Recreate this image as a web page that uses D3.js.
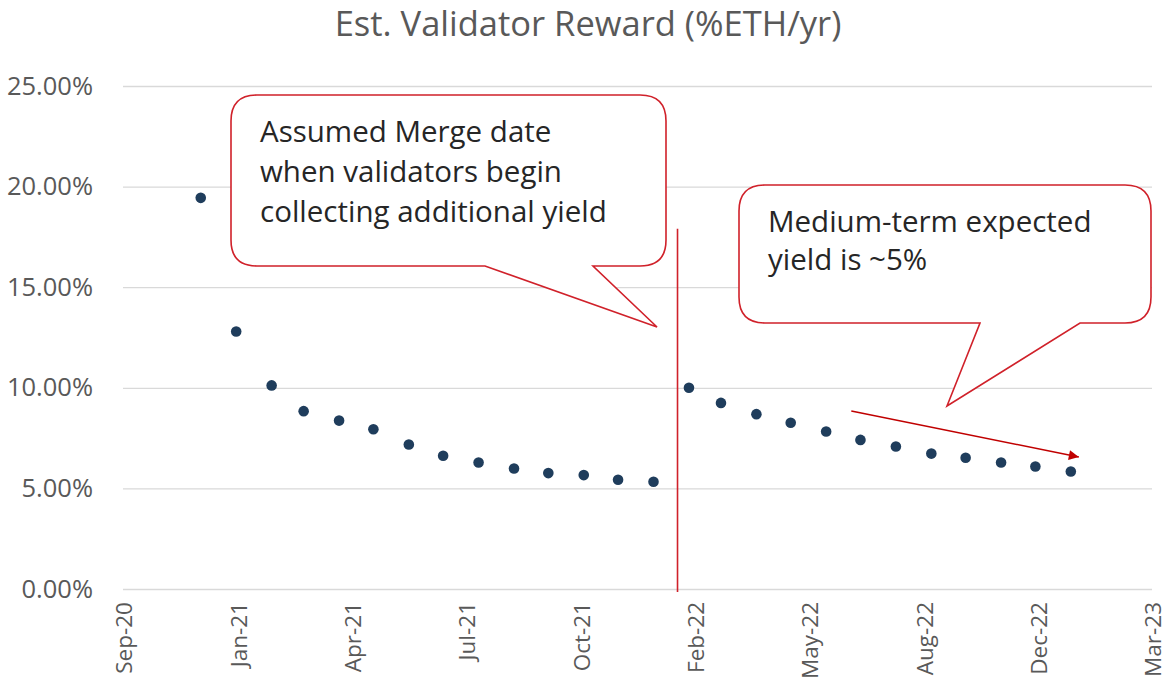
<!DOCTYPE html>
<html>
<head>
<meta charset="utf-8">
<script src="https://cdn.jsdelivr.net/npm/d3@7"></script>
<style>
  body { margin: 0; background: #fff; }
  text { font-family: "Open Sans", "Noto Sans", sans-serif; }
</style>
</head>
<body>
<div id="chart"></div>
<script>
// monthly estimates, % ETH per year
const preMergeDates = ["2020-12-01","2021-01-01","2021-02-01","2021-03-01","2021-04-01","2021-05-01","2021-06-01",
                       "2021-07-01","2021-08-01","2021-09-01","2021-10-01","2021-11-01","2021-12-01","2022-01-01"];
const preMergeReward = [19.44, 12.80, 10.12, 8.84, 8.37, 7.94, 7.18, 6.62, 6.29, 5.99, 5.76, 5.66, 5.43, 5.33];

const postMergeDates = ["2022-02-01","2022-03-01","2022-04-01","2022-05-01","2022-06-01","2022-07-01",
                        "2022-08-01","2022-09-01","2022-10-01","2022-11-01","2022-12-01","2023-01-01"];
const postMergeReward = [10.00, 9.25, 8.69, 8.26, 7.83, 7.41, 7.08, 6.73, 6.52, 6.29, 6.09, 5.84];

// axis: excel date axis, 100 day steps
const xTickDates = ["2020-09-24","2021-01-02","2021-04-12","2021-07-21","2021-10-29",
                    "2022-02-06","2022-05-17","2022-08-25","2022-12-03","2023-03-13"];
const yTicks = [0, 5, 10, 15, 20, 25];

const mergeDate = "2022-01-22";
const mergeLineRange = [17.9, -0.15];
const trendArrow = [["2022-06-23", 8.85], ["2023-01-08", 6.56]];

const chartTitle = "Est. Validator Reward (%ETH/yr)";
const callout1Lines = ["Assumed Merge date", "when validators begin", "collecting additional yield"];
const callout2Lines = ["Medium-term expected", "yield is ~5%"];

const W = 1168, H = 694;
const red = "#d0212a";
const parse = d3.utcParse("%Y-%m-%d");

const svg = d3.select("#chart").append("svg")
    .attr("width", W)
    .attr("height", H);

const xScale = d3.scaleUtc()
    .domain([parse(xTickDates[0]), parse(xTickDates[xTickDates.length - 1])])
    .range([123, 1152]);

const yScale = d3.scaleLinear()
    .domain([0, 25])
    .range([589, 86]);

svg.append("text")
    .attr("x", 588)
    .attr("y", 36)
    .attr("text-anchor", "middle")
    .attr("fill", "#595959")
    .style("font-size", "34.5px")
    .text(chartTitle);

// gridlines + y labels
const yAxis = svg.append("g")
    .attr("transform", "translate(123,0)")
    .call(d3.axisLeft(yScale)
        .tickValues(yTicks)
        .tickSize(-(1152 - 123))
        .tickPadding(30)
        .tickFormat(function (d) { return d3.format(".2f")(d) + "%"; }));
yAxis.select(".domain").remove();
yAxis.selectAll("line").attr("stroke", "#d9d9d9").attr("stroke-width", 1.3);
yAxis.selectAll("text")
    .attr("fill", "#595959")
    .style("font-size", "25.5px")
    .style("font-family", "'Open Sans', sans-serif");

// x labels, rotated
const xAxis = svg.append("g")
    .attr("transform", "translate(0,589)")
    .call(d3.axisBottom(xScale)
        .tickValues(xTickDates.map(parse))
        .tickSize(0)
        .tickFormat(d3.utcFormat("%b-%y")));
xAxis.select(".domain").remove();
xAxis.selectAll("text")
    .attr("transform", "rotate(-90)")
    .attr("text-anchor", "end")
    .attr("x", -13)
    .attr("y", 1)
    .attr("dy", "0.35em")
    .attr("fill", "#595959")
    .style("font-size", "22.5px")
    .style("font-family", "'Open Sans', sans-serif");

// merge line
svg.append("line")
    .attr("x1", xScale(parse(mergeDate)))
    .attr("x2", xScale(parse(mergeDate)))
    .attr("y1", yScale(mergeLineRange[0]))
    .attr("y2", yScale(mergeLineRange[1]))
    .attr("stroke", red)
    .attr("stroke-width", 1.6);

// points
const points = preMergeDates.map(function (d, i) { return { date: parse(d), value: preMergeReward[i] }; })
    .concat(postMergeDates.map(function (d, i) { return { date: parse(d), value: postMergeReward[i] }; }));

svg.append("g")
    .selectAll("circle")
    .data(points)
    .join("circle")
    .attr("cx", function (d) { return xScale(d.date); })
    .attr("cy", function (d) { return yScale(d.value); })
    .attr("r", 5.3)
    .attr("fill", "#1f3d5c");

// trend arrow
svg.append("defs").append("marker")
    .attr("id", "head")
    .attr("viewBox", "0 0 10 10")
    .attr("refX", 10)
    .attr("refY", 5)
    .attr("markerWidth", 13)
    .attr("markerHeight", 10)
    .attr("markerUnits", "userSpaceOnUse")
    .attr("orient", "auto")
    .append("path")
    .attr("d", "M0,0 L10,5 L0,10 Z")
    .attr("fill", "#c00000");

svg.append("line")
    .attr("x1", xScale(parse(trendArrow[0][0])))
    .attr("y1", yScale(trendArrow[0][1]))
    .attr("x2", xScale(parse(trendArrow[1][0])))
    .attr("y2", yScale(trendArrow[1][1]))
    .attr("stroke", "#c00000")
    .attr("stroke-width", 1.6)
    .attr("marker-end", "url(#head)");

// callout shapes
function calloutPath(x0, y0, x1, y1, r, b1, b2, tx, ty) {
    return "M" + (x0 + r) + "," + y0 +
        " L" + (x1 - r) + "," + y0 +
        " Q" + x1 + "," + y0 + " " + x1 + "," + (y0 + r) +
        " L" + x1 + "," + (y1 - r) +
        " Q" + x1 + "," + y1 + " " + (x1 - r) + "," + y1 +
        " L" + b2 + "," + y1 +
        " L" + tx + "," + ty +
        " L" + b1 + "," + y1 +
        " L" + (x0 + r) + "," + y1 +
        " Q" + x0 + "," + y1 + " " + x0 + "," + (y1 - r) +
        " L" + x0 + "," + (y0 + r) +
        " Q" + x0 + "," + y0 + " " + (x0 + r) + "," + y0 + " Z";
}

function callout(box, lines, tx, lineGap) {
    svg.append("path")
        .attr("d", calloutPath.apply(null, box))
        .attr("fill", "#fff")
        .attr("stroke", red)
        .attr("stroke-width", 1.6);
    svg.append("g")
        .selectAll("text")
        .data(lines)
        .join("text")
        .attr("x", tx[0])
        .attr("y", function (d, i) { return tx[1] + i * lineGap; })
        .attr("fill", "#262626")
        .style("font-size", "29.5px")
        .text(function (d) { return d; });
}

callout([231, 95, 666, 266, 26, 485, 593, 657, 327], callout1Lines, [260, 142], 40);
callout([739, 185, 1151, 323, 26, 980, 1080, 947, 406], callout2Lines, [768, 232], 38);
</script>
</body>
</html>
